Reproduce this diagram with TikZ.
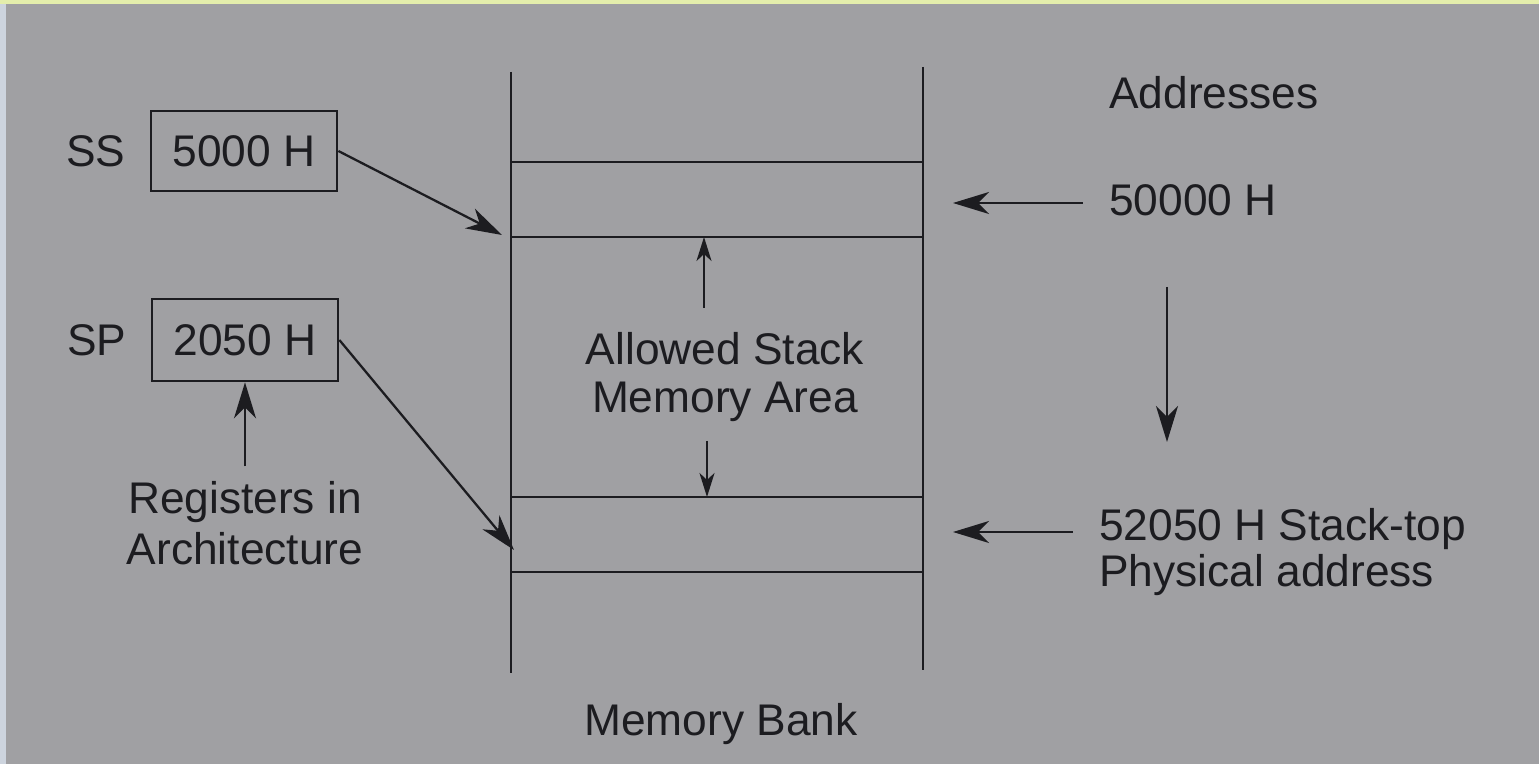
\documentclass[tikz,border=0pt]{standalone}
\usepackage{fontspec}
\setmainfont{Liberation Sans}
\usetikzlibrary{arrows.meta, positioning}
\usepackage{xcolor}
\definecolor{paper}{RGB}{160,160,163}
\definecolor{ink}{RGB}{28,28,32}
\definecolor{rim}{RGB}{228,238,172}
\definecolor{edge}{RGB}{205,212,222}

\begin{document}
\begin{tikzpicture}[
      x=0.01cm, y=-0.01cm,
      >={Stealth[length=3.6mm, width=2.2mm, inset=1.1mm]},
      every node/.style={text=ink, font=\fontsize{12.6}{13.4}\selectfont},
      reg/.style={
        rectangle, draw=ink, line width=0.75pt,
        minimum width=1.86cm, minimum height=0.8cm
      },
      lbl/.style={inner sep=1pt},
      wall/.style={draw=ink, line width=0.7pt},
      ptr/.style={->, draw=ink, line width=0.65pt},
      tick/.style={ptr, >={Stealth[length=2.4mm, width=1.5mm, inset=0.7mm]}}
    ]
    % page
    \fill[paper] (0,0) rectangle (1539,764);
    \fill[rim] (0,0) rectangle (1539,4);
    \fill[edge] (0,4) rectangle (6,764);
    \useasboundingbox (0,0) rectangle (1539,764);

    % memory bank
    \draw[wall] (511,72) -- (511,673);
    \draw[wall] (923,67) -- (923,670);
    \foreach \y in {162,237,497,572}
      \draw[wall] (511,\y) -- (923,\y);
    \node (bank) at (721,724) {Memory Bank};
    \node[align=center] (area) at (725,377) {Allowed Stack\\Memory Area};

    \coordinate (lim hi) at (704,237);
    \coordinate (lim lo) at (707,497);
    \coordinate (grow up) at (704,308);
    \coordinate (grow dn) at (707,441);
    \draw[tick] (grow up) -- (lim hi);
    \draw[tick] (grow dn) -- (lim lo);

    % segment registers
    \node[reg] (ss) at (244,151) {5000 H};
    \node[lbl, left=0.2cm of ss] (sslbl) {SS};
    \node[reg, minimum height=0.82cm] (sp) at (245,340) {2050 H};
    \node[lbl, left=0.2cm of sp] (splbl) {SP};
    \node[lbl, align=center, font=\fontsize{12.6}{14.5}\selectfont,
          below=0.95cm of sp] (arch) {Registers in\\Architecture};
    \draw[ptr, shorten <=1.1mm] (arch) -- (sp);

    \coordinate (ss hit) at (502,235);
    \coordinate (sp hit) at (514,550);
    \draw[ptr] (ss.east) -- (ss hit);
    \draw[ptr] (sp.east) -- (sp hit);

    % addresses
    \node[lbl, anchor=west] (adr) at (1105,93) {Addresses};
    \node[lbl, anchor=west] (seg) at (1105,200) {50000 H};
    \node[lbl, anchor=west, align=left, font=\fontsize{12.6}{13.2}\selectfont]
      (stop) at (1095,552) {52050 H Stack-top\\Physical address};

    \coordinate (seg hit) at (953,203);
    \coordinate (top hit) at (953,532);
    \draw[ptr, shorten <=2.2mm] (seg.west |- seg hit) -- (seg hit);
    \draw[ptr, shorten <=2.2mm] (stop.west |- top hit) -- (top hit);

    \coordinate (up addr) at (1167,287);
    \coordinate (dn addr) at (1167,442);
    \draw[ptr] (up addr) -- (dn addr);
  \end{tikzpicture}
\end{document}
